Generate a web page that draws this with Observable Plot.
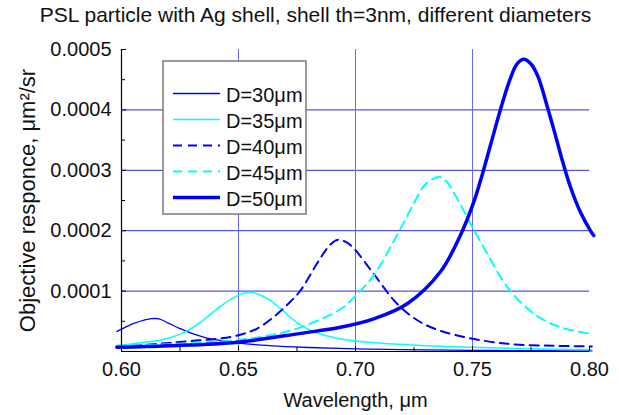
<!DOCTYPE html>
<html>
<head>
<meta charset="utf-8">
<script src="https://cdn.jsdelivr.net/npm/d3@7"></script>
<script src="https://cdn.jsdelivr.net/npm/@observablehq/plot@0.6"></script>
<style>
  html, body { margin: 0; padding: 0; background: white; }
  #wrap { position: relative; width: 619px; height: 415px; font-family: "Liberation Sans", Arial, Helvetica, sans-serif; }
  #title { position: absolute; top: 1px; left: 0; width: 619px; box-sizing: border-box; padding-left: 12px;
           text-align: center; font-size: 21px; line-height: 28px; color: #111; white-space: nowrap; }
  #legend { position: absolute; left: 0; top: 0; pointer-events: none; }
</style>
</head>
<body>
<div id="wrap">
  <div id="chart"></div>
  <div id="title"></div>
  <svg id="legend" width="619" height="415"></svg>
</div>
<script>
// ---- texts ----
const titleText = "PSL particle with Ag shell, shell th=3nm, different diameters";
const xLabel = "Wavelength, \u03bcm";
const yLabel = "Objective responce, \u03bcm\u00b2/sr";

// ---- axes ----
const xDomain = [0.60, 0.80];
const yDomain = [0, 0.0005];
const xMajor = [0.60, 0.65, 0.70, 0.75, 0.80];
const xMinor = [0.625, 0.675, 0.725, 0.775];
const yMajor = [0.0001, 0.0002, 0.0003, 0.0004, 0.0005];
const yMinor = [0.00005, 0.00015, 0.00025, 0.00035, 0.00045];
const xGrid = [0.65, 0.70, 0.75];
const yGrid = [0.0001, 0.0002, 0.0003, 0.0004];

// ---- series (wavelength in µm, response in µm²/sr) ----
const labels = ["D=30\u03bcm", "D=35\u03bcm", "D=40\u03bcm", "D=45\u03bcm", "D=50\u03bcm"];

const wl30 = [0.598, 0.600, 0.605, 0.610, 0.613, 0.616, 0.620, 0.625, 0.630, 0.635, 0.640, 0.650, 0.660, 0.670, 0.680, 0.700, 0.720, 0.750, 0.780, 0.801];
const d30  = [3.3e-5, 3.7e-5, 4.6e-5, 5.25e-5, 5.45e-5, 5.4e-5, 4.7e-5, 3.8e-5, 3.0e-5, 2.4e-5, 1.95e-5, 1.4e-5, 1.05e-5, 0.82e-5, 0.66e-5, 0.45e-5, 0.32e-5, 0.2e-5, 0.13e-5, 0.1e-5];

const wl35 = [0.598, 0.605, 0.612, 0.620, 0.627, 0.634, 0.641, 0.647, 0.651, 0.655, 0.659, 0.663, 0.668, 0.676, 0.685, 0.695, 0.710, 0.730, 0.750, 0.775, 0.801];
const d35  = [1.0e-5, 1.3e-5, 1.6e-5, 2.2e-5, 3.2e-5, 4.9e-5, 7.1e-5, 8.7e-5, 9.5e-5, 9.8e-5, 9.4e-5, 8.6e-5, 7.1e-5, 4.5e-5, 2.9e-5, 2.0e-5, 1.4e-5, 0.95e-5, 0.7e-5, 0.45e-5, 0.3e-5];

const wl40 = [0.598, 0.610, 0.620, 0.630, 0.641, 0.650, 0.658, 0.665, 0.671, 0.6765, 0.6836, 0.689, 0.6925, 0.696, 0.699, 0.7077, 0.7178, 0.729, 0.7435, 0.765, 0.785, 0.801];
const d40  = [0.8e-5, 1.1e-5, 1.4e-5, 1.75e-5, 2.1e-5, 2.7e-5, 3.8e-5, 5.7e-5, 7.8e-5, 10.1e-5, 14.6e-5, 17.6e-5, 18.5e-5, 18.1e-5, 17.2e-5, 12.9e-5, 7.9e-5, 4.6e-5, 2.65e-5, 1.28e-5, 0.95e-5, 0.83e-5];

const wl45 = [0.598, 0.620, 0.6496, 0.665, 0.6765, 0.6936, 0.699, 0.702, 0.7078, 0.7185, 0.7249, 0.7299, 0.7356, 0.7385, 0.7435, 0.7491, 0.7563, 0.7648, 0.776, 0.7876, 0.801];
const d45  = [0.9e-5, 1.2e-5, 1.9e-5, 2.8e-5, 4.0e-5, 7.0e-5, 8.8e-5, 10.0e-5, 12.6e-5, 19.8e-5, 24.5e-5, 27.7e-5, 28.9e-5, 28.3e-5, 25.3e-5, 21.2e-5, 16.2e-5, 10.7e-5, 6.3e-5, 4.0e-5, 2.9e-5];

const wl50 = [0.598, 0.620, 0.6496, 0.6765, 0.6936, 0.7078, 0.7221, 0.7363, 0.7449, 0.7506, 0.7541, 0.7580, 0.7619, 0.766, 0.769, 0.7719, 0.775, 0.778, 0.7819, 0.785, 0.7887, 0.7919, 0.7962, 0.8007, 0.8018];
const d50  = [0.7e-5, 0.95e-5, 1.55e-5, 3.0e-5, 4.0e-5, 5.4e-5, 7.9e-5, 13.2e-5, 19.3e-5, 24.8e-5, 29.2e-5, 34.6e-5, 40.0e-5, 45.0e-5, 47.6e-5, 48.4e-5, 47.6e-5, 45.5e-5, 40.6e-5, 36.4e-5, 31.2e-5, 27.2e-5, 23.0e-5, 19.8e-5, 19.2e-5];

const seriesX = [wl30, wl35, wl40, wl45, wl50];
const seriesY = [d30, d35, d40, d45, d50];

// ---- styles ----
const strokes = ["#0000ff", "#00ffff", "#0000ff", "#00ffff", "#0000ff"];
const widths  = [1.3, 1.5, 2, 2, 3.5];
const dashes  = [null, null, "9,6", "9,6", null];

const font = "'Liberation Sans', Arial, Helvetica, sans-serif";

const lineMarks = seriesX.map((xs, s) =>
  Plot.line(xs.map((x, i) => ({x, y: seriesY[s][i]})), {
    x: "x", y: "y",
    stroke: strokes[s], strokeWidth: widths[s],
    strokeDasharray: dashes[s] || undefined,
    curve: "catmull-rom"
  })
);

const chart = Plot.plot({
  width: 619, height: 415,
  marginLeft: 121, marginRight: 30, marginTop: 49, marginBottom: 64,
  x: {domain: xDomain},
  y: {domain: yDomain},
  style: {fontFamily: font, fontSize: "20px", color: "#111", background: "white", overflow: "visible"},
  marks: [
    Plot.ruleY(yGrid, {stroke: "#2a2af0", strokeWidth: 1}),
    Plot.ruleX(xGrid, {stroke: "#6464ff", strokeWidth: 1}),
    ...lineMarks,
    Plot.ruleX([xDomain[0]], {stroke: "black", strokeWidth: 1.2}),
    Plot.ruleY([yDomain[0]], {stroke: "black", strokeWidth: 1.2}),
    Plot.axisX(xMajor, {tickSize: -5, tickPadding: 15, tickFormat: d => d.toFixed(2), label: null, stroke: "black", fill: "#111"}),
    Plot.axisX(xMinor, {tickSize: -4, tickPadding: 0, tickFormat: () => "", label: null, stroke: "black"}),
    Plot.axisY(yMajor, {tickSize: -5, tickPadding: 15, tickFormat: d => d.toFixed(4), label: null, stroke: "black", fill: "#111"}),
    Plot.axisY(yMinor, {tickSize: -4, tickPadding: 0, tickFormat: () => "", label: null, stroke: "black"}),
    Plot.text([xLabel], {frameAnchor: "bottom", lineAnchor: "middle", textAnchor: "middle", dy: 49, text: d => d, fontSize: 20, fill: "#111"}),
    Plot.text([yLabel], {frameAnchor: "left", textAnchor: "middle", lineAnchor: "middle", dx: -94, rotate: -90, text: d => d, fontSize: 22, fill: "#111"})
  ]
});
document.getElementById("chart").appendChild(chart);
document.getElementById("title").textContent = titleText;

// ---- legend ----
const lg = d3.select("#legend").append("g").attr("transform", "translate(163,61)");
lg.append("rect").attr("width", 143).attr("height", 153)
  .attr("fill", "white").attr("stroke", "#7a7a7a").attr("stroke-width", 1.5);
const rows = lg.selectAll("g.row").data(labels).join("g")
  .attr("class", "row")
  .attr("transform", (d, i) => `translate(0,${32.5 + i * 26})`);
rows.append("line").attr("x1", 10).attr("x2", 57).attr("y1", 0).attr("y2", 0)
  .attr("stroke", (d, i) => strokes[i])
  .attr("stroke-width", (d, i) => widths[i])
  .attr("stroke-dasharray", (d, i) => dashes[i]);
rows.append("text").attr("x", 63).attr("y", 8)
  .attr("font-family", font).attr("font-size", 20).attr("fill", "#111")
  .text(d => d);
</script>
</body>
</html>
